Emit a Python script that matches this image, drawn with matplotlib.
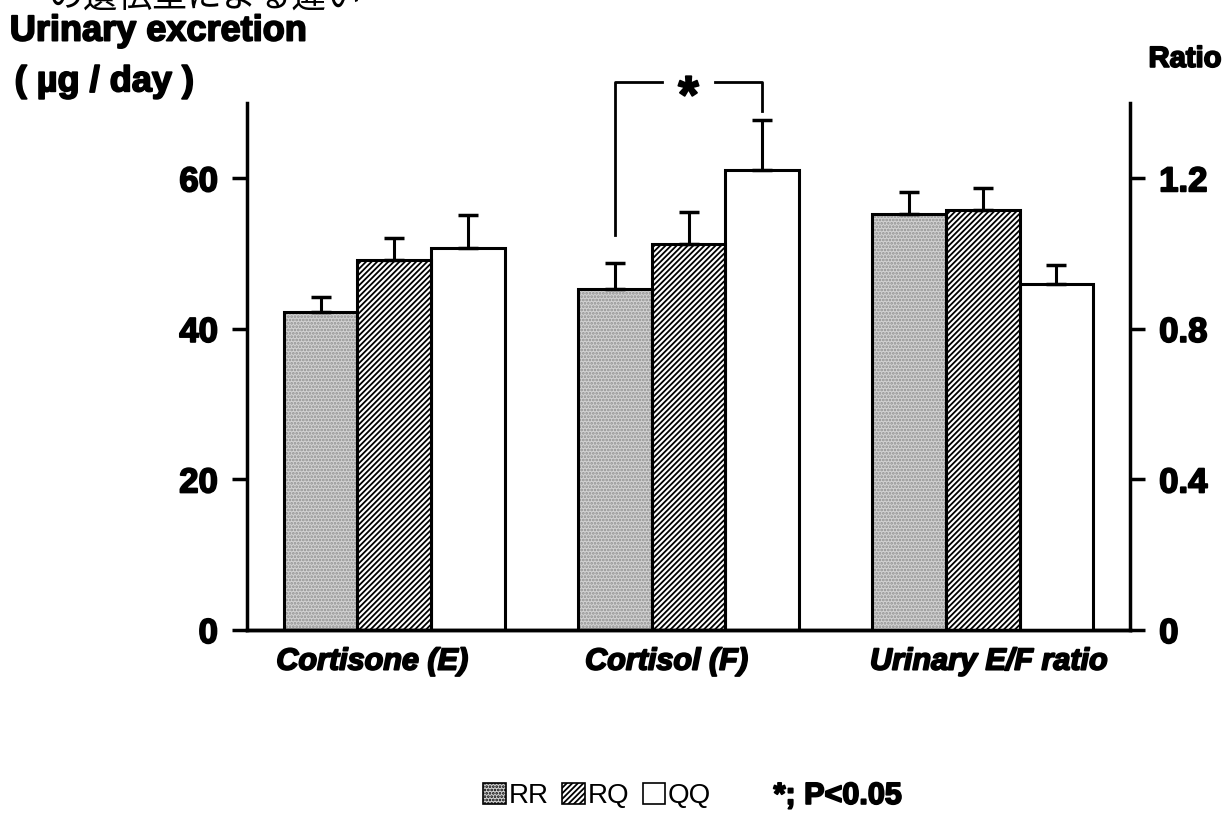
import matplotlib.pyplot as plt
import matplotlib.patheffects as pe
from matplotlib.patches import Patch
import numpy as np

plt.rcParams['font.family'] = ['Liberation Sans', 'DejaVu Sans']

# 測定項目と遺伝子型
categories = ["Cortisone (E)", "Cortisol (F)", "Urinary E/F ratio"]
genotypes = ["RR", "RQ", "QQ"]

# 尿中排泄量 (µg/day): 平均値とSE
cortisone_mean = [42.3, 49.1, 50.7]
cortisone_se = [1.9, 3.0, 4.4]
cortisol_mean = [45.3, 51.3, 61.1]
cortisol_se = [3.4, 4.2, 6.6]
# E/F 比
ratio_mean = [1.105, 1.115, 0.92]
ratio_se = [0.06, 0.06, 0.05]

left_ticks = [0, 20, 40, 60]
right_ticks = [0, 0.4, 0.8, 1.2]

# 太字を少し太らせる
heavy = [pe.withStroke(linewidth=1.3, foreground='black')]

fig = plt.figure(figsize=(12.24, 8.18), dpi=100)
ax = fig.add_axes([0.2018, 0.2298, 0.7214, 0.6442])
ax2 = ax.twinx()

group_x = np.array([0, 4, 8])
offsets = [-1, 0, 1]
faces = ['#d2d2d2', 'white', 'white']
hatches = ['.....', '//////', None]
hatch_cols = ['#8f8f8f', 'black', 'white']


def draw_group(axis, gx, means, ses):
    for i in range(3):
        x = gx + offsets[i]
        axis.bar(x, means[i], width=1.0, color=faces[i], hatch=hatches[i],
                 edgecolor=hatch_cols[i], linewidth=0, zorder=2)
        axis.bar(x, means[i], width=1.0, fill=False, edgecolor='black',
                 linewidth=2.2, zorder=3)
        axis.errorbar(x, means[i], yerr=[[0], [ses[i]]], fmt='none',
                      ecolor='black', elinewidth=2.2, capsize=7.5, capthick=2.5,
                      zorder=4)


plt.rcParams['hatch.linewidth'] = 1.3
draw_group(ax, group_x[0], cortisone_mean, cortisone_se)
draw_group(ax, group_x[1], cortisol_mean, cortisol_se)
draw_group(ax2, group_x[2], ratio_mean, ratio_se)

ax.set_xlim(-2, 10)
ax.set_ylim(0, 70)
ax2.set_ylim(0, 1.4)

ax.set_yticks(left_ticks)
ax.set_yticklabels([str(t) for t in left_ticks])
ax2.set_yticks(right_ticks)
ax2.set_yticklabels(['0', '0.4', '0.8', '1.2'])

for a in (ax, ax2):
    a.spines['top'].set_visible(False)
    for s in a.spines.values():
        s.set_linewidth(2.5)
    a.tick_params(axis='y', length=11, width=2.5, labelsize=25, pad=10)
    for lbl in a.get_yticklabels():
        lbl.set_fontweight('bold')
        lbl.set_path_effects(heavy)
ax2.spines['left'].set_visible(False)
ax.spines['right'].set_visible(False)

# 項目名 (斜体の見た目に合わせて少し左寄せ)
ax.set_xticks([])
label_shift = [-0.3, -0.3, 0.08]
for gx, name, dx in zip(group_x, categories, label_shift):
    ax.text(gx + dx, -0.06, name, transform=ax.get_xaxis_transform(),
            ha='center', va='center', fontsize=22, fontweight='bold',
            style='italic', path_effects=heavy)

# 有意差のブラケット (RR vs QQ, Cortisol)
bx0 = group_x[1] - 1
bx1 = group_x[1] + 1
ytop = 72.8
ax.plot([bx0, bx0, group_x[1] - 0.36], [52.5, ytop, ytop], color='black',
        lw=2, clip_on=False)
ax.plot([group_x[1] + 0.36, bx1, bx1], [ytop, ytop, 69.0], color='black',
        lw=2, clip_on=False)
ax.text(group_x[1], ytop - 2.2, '*', ha='center', va='center', fontsize=38,
        fontweight='bold', path_effects=heavy)

# 軸タイトル
fig.text(0.008, 0.962, 'Urinary excretion', fontsize=26, fontweight='bold',
         va='center', path_effects=heavy)
fig.text(0.012, 0.900, '( µg / day )', fontsize=26, fontweight='bold',
         va='center', path_effects=heavy)
fig.text(0.998, 0.928, 'Ratio', fontsize=21, fontweight='bold', ha='right',
         va='center', path_effects=heavy)
fig.text(0.04, 0.982, 'の遺伝型による違い', fontsize=25, va='bottom',
         family=['Noto Sans CJK JP', 'DejaVu Sans'])

# 凡例
handles = [Patch(facecolor=faces[i], hatch=hatches[i], edgecolor='black',
                 linewidth=1.2) for i in range(3)]
fig.legend(handles, genotypes, loc='center', bbox_to_anchor=(0.488, 0.027),
           ncol=3, frameon=False, fontsize=20, handlelength=0.8,
           handleheight=0.8, handletextpad=0.1, columnspacing=0.5)
fig.text(0.632, 0.027, '*; P<0.05', fontsize=22, fontweight='bold',
         va='center', path_effects=heavy)

plt.savefig('out.png', dpi=100)
